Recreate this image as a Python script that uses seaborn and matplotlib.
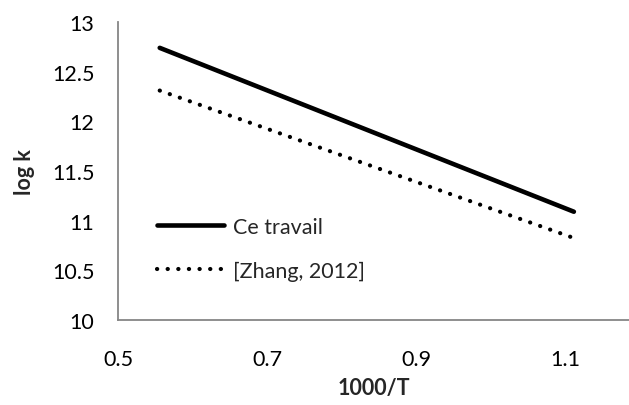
import matplotlib
matplotlib.use("Agg")
import matplotlib.pyplot as plt
import seaborn as sns
import pandas as pd

# data
x_vals = [0.556, 1.112]
ce_travail = [12.74, 11.09]
zhang_2012 = [12.31, 10.825]
series_names = ["Ce travail", "[Zhang, 2012]"]

sns.set_style("white")
plt.rcParams["font.family"] = ["Lato", "DejaVu Sans"]

df = pd.DataFrame({
    "x": x_vals * 2,
    "y": ce_travail + zhang_2012,
    "serie": [series_names[0]] * 2 + [series_names[1]] * 2,
})

fig = plt.figure(figsize=(6.29, 4.06), dpi=100)
ax = fig.add_axes([0.1876, 0.2094, 0.8124, 0.7339])

sub = df[df.serie == series_names[0]]
sns.lineplot(x=sub.x, y=sub.y, ax=ax, color="black", lw=3.3,
             solid_capstyle="round", label=series_names[0])
sub = df[df.serie == series_names[1]]
sns.lineplot(x=sub.x, y=sub.y, ax=ax, color="black", lw=3.0,
             linestyle=(0, (0.05, 2.5)), dash_capstyle="round",
             label=series_names[1])

ax.set_xlim(0.5, 1.186)
ax.set_ylim(10, 13)
ax.set_xticks([0.5, 0.7, 0.9, 1.1])
ax.set_yticks([10, 10.5, 11, 11.5, 12, 12.5, 13])
ax.set_xticklabels(["0.5", "0.7", "0.9", "1.1"])
ax.set_yticklabels(["10", "10.5", "11", "11.5", "12", "12.5", "13"])

for side in ["top", "right"]:
    ax.spines[side].set_visible(False)
for side in ["left", "bottom"]:
    ax.spines[side].set_color("#868686")
    ax.spines[side].set_linewidth(1.3)
fs = 15.5
ax.tick_params(axis="both", direction="out", length=6, width=1.3,
               color="#868686", labelsize=fs, labelcolor="black")
ax.tick_params(axis="y", pad=11)
ax.tick_params(axis="x", pad=15)

ax.set_xlabel("1000/T", fontsize=fs, fontweight="bold", labelpad=6)
ax.set_ylabel("log k", fontsize=fs, fontweight="bold", labelpad=12)

ax.legend(loc="upper left", bbox_to_anchor=(0.06, 0.375), frameon=False,
          fontsize=fs, handlelength=3.1, handletextpad=0.4,
          labelspacing=1.1, borderaxespad=0)

fig.savefig("out.png", dpi=100)
